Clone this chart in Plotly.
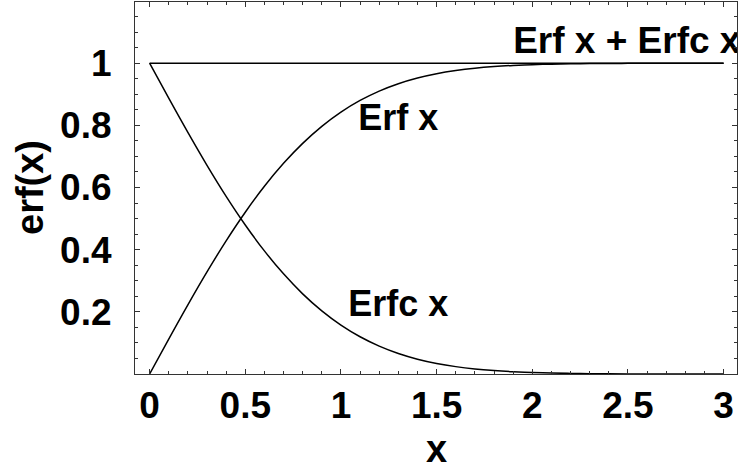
import plotly.graph_objects as go

x_vals = [0.0, 0.1, 0.2, 0.3, 0.4, 0.5, 0.6, 0.7, 0.8, 0.9, 1.0, 1.1, 1.2, 1.3, 1.4, 1.5,
          1.6, 1.7, 1.8, 1.9, 2.0, 2.1, 2.2, 2.3, 2.4, 2.5, 2.6, 2.7, 2.8, 2.9, 3.0]
erf_vals = [0.0, 0.1125, 0.2227, 0.3286, 0.4284, 0.5205, 0.6039, 0.6778, 0.7421, 0.7969,
            0.8427, 0.8802, 0.9103, 0.9340, 0.9523, 0.9661, 0.9763, 0.9838, 0.9891, 0.9928,
            0.9953, 0.9970, 0.9981, 0.9989, 0.9993, 0.9996, 0.9998, 0.9999, 0.9999, 1.0, 1.0]
erfc_vals = [1.0, 0.8875, 0.7773, 0.6714, 0.5716, 0.4795, 0.3961, 0.3222, 0.2579, 0.2031,
             0.1573, 0.1198, 0.0897, 0.0660, 0.0477, 0.0339, 0.0237, 0.0162, 0.0109, 0.0072,
             0.0047, 0.0030, 0.0019, 0.0011, 0.0007, 0.0004, 0.0002, 0.0001, 0.0001, 0.0, 0.0]
sum_vals = [1.0] * len(x_vals)

x_ticks = [0, 0.5, 1, 1.5, 2, 2.5, 3]
x_tick_text = ["0", "0.5", "1", "1.5", "2", "2.5", "3"]
y_ticks = [0.2, 0.4, 0.6, 0.8, 1.0]
y_tick_text = ["0.2", "0.4", "0.6", "0.8", "1"]

labels = ["Erf x", "Erfc x", "Erf x + Erfc x"]

FONT = "Liberation Sans, Arial, sans-serif"
line = dict(color="black", width=1.5, shape="spline")

fig = go.Figure()
fig.add_trace(go.Scatter(x=x_vals, y=sum_vals, mode="lines", line=line))
fig.add_trace(go.Scatter(x=x_vals, y=erf_vals, mode="lines", line=line))
fig.add_trace(go.Scatter(x=x_vals, y=erfc_vals, mode="lines", line=line))

txtfont = dict(family=FONT, size=36, color="black", weight="bold")
fig.add_trace(go.Scatter(x=[1.30], y=[0.814], mode="text", text=[labels[0]],
                         textposition="middle center", textfont=txtfont, cliponaxis=True))
fig.add_trace(go.Scatter(x=[1.30], y=[0.214], mode="text", text=[labels[1]],
                         textposition="middle center", textfont=txtfont, cliponaxis=True))
fig.add_trace(go.Scatter(x=[1.90], y=[1.062], mode="text", text=[labels[2]],
                         textposition="middle right",
                         textfont=dict(family=FONT, size=37, color="black", weight="bold"),
                         cliponaxis=True))

axis_common = dict(
    showgrid=False, zeroline=False, showline=True, linecolor="#333", linewidth=1.2,
    mirror="allticks", ticks="inside", ticklen=5, tickwidth=1, tickcolor="#333",
    tickfont=dict(family=FONT, size=37, color="black", weight="bold"),
)

fig.update_xaxes(range=[-0.0763, 3.070], tickvals=x_ticks, ticktext=x_tick_text,
                 ticklabelstandoff=-2,
                 minor=dict(dtick=0.1, tick0=0, ticks="inside", ticklen=3, tickcolor="#333"),
                 **axis_common)
fig.update_yaxes(range=[0, 1.197], tickvals=y_ticks, ticktext=y_tick_text,
                 ticklabelstandoff=15,
                 minor=dict(dtick=0.05, tick0=0, ticks="inside", ticklen=3, tickcolor="#333"),
                 **axis_common)

fig.update_layout(
    width=741, height=469,
    margin=dict(l=135, r=4, t=2, b=95, autoexpand=False),
    paper_bgcolor="white", plot_bgcolor="white",
    showlegend=False,
    annotations=[
        dict(text="x", xref="paper", yref="paper", x=0.5, y=0, yshift=-75,
             xanchor="center", yanchor="middle", showarrow=False,
             font=dict(family=FONT, size=38, color="black", weight="bold")),
        dict(text="erf(x)", xref="paper", yref="paper", x=0, y=0.5, xshift=-105,
             xanchor="center", yanchor="middle", showarrow=False, textangle=-90,
             font=dict(family=FONT, size=38, color="black", weight="bold")),
    ],
)

fig.write_html("out.html", config={"displayModeBar": False},
               post_script="document.body.style.margin='0';document.body.style.overflow='hidden';")
